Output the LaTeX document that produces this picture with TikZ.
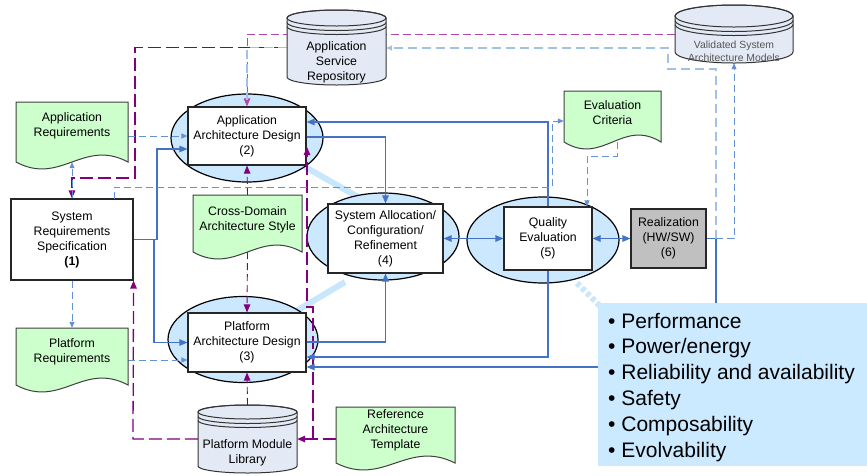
\documentclass[tikz,border=0pt]{standalone}
\usepackage{fontspec}
\setmainfont{Liberation Sans}
\usetikzlibrary{arrows.meta,shapes.geometric}

\definecolor{flowblue}{RGB}{68,114,196}
\definecolor{dashmid}{RGB}{100,145,212}
\definecolor{dashpale}{RGB}{165,192,230}
\definecolor{purp}{RGB}{128,0,128}
\definecolor{purplight}{RGB}{176,72,176}
\definecolor{ellfill}{RGB}{204,232,255}
\definecolor{docfill}{RGB}{204,255,204}
\definecolor{cylfill}{RGB}{228,234,245}
\definecolor{realfill}{RGB}{192,192,192}
\definecolor{qualfill}{RGB}{204,234,255}
\definecolor{bandcol}{RGB}{200,230,252}
\definecolor{modeltext}{RGB}{85,85,85}

\tikzset{
  >={Triangle[length=8pt,width=6.5pt]},
  smalltip/.style={-{Triangle[length=6pt,width=5pt]}},
  lbl/.style={font=\fontsize{12.3}{15}\selectfont, align=center, inner sep=0pt},
  procbox/.style={draw=black!85, line width=1.1pt, fill=white, inner sep=0pt, lbl},
  ellnode/.style={ellipse, draw=black, line width=1.2pt, fill=ellfill, inner sep=0pt},
  docstyle/.style={draw=black!75, line width=1pt, fill=docfill},
  cylstyle/.style={draw=black!80, line width=1pt, fill=cylfill},
  cylline/.style={draw=black!80, line width=1pt},
  area/.style={inner sep=0pt, draw=none},
  flow/.style={draw=flowblue, line width=1.1pt},
  dsh/.style={draw=dashmid, line width=1pt, dash pattern=on 7pt off 4pt},
  dshpale/.style={draw=dashpale, line width=1.3pt, dash pattern=on 9pt off 5pt},
  pdash/.style={draw=purp, line width=1.3pt, dash pattern=on 13pt off 5pt},
  pthin/.style={draw=purp, line width=0.9pt, dash pattern=on 7pt off 4pt},
  band/.style={draw=bandcol, line width=6pt},
  qline/.style={anchor=base west, inner sep=0pt, font=\fontsize{21}{25}\selectfont},
}

% document symbol with wavy lower edge: x1, x2, top, bottom
\newcommand\docsym[4]{%
  \path[docstyle] (#1,#3) -- (#2,#3) -- (#2,#4)
    .. controls ({#1+0.6*(#2-#1)},{#4-24}) and ({#1+0.4*(#2-#1)},{#4+24}) .. (#1,#4) -- cycle;}

% database cylinder: centre x, top-ellipse y, bottom-ellipse y, x radius, y radius
\newcommand\dbcyl[5]{%
  \path[cylstyle] ({#1-#4},#2) -- ({#1-#4},#3)
    arc[start angle=180,end angle=360,x radius=#4pt,y radius=#5pt]
    -- ({#1+#4},#2)
    arc[start angle=0,end angle=180,x radius=#4pt,y radius=#5pt] -- cycle;
  \draw[cylline] (#1,#2) ellipse[x radius=#4pt,y radius=#5pt];
  \draw[cylline] ({#1-#4},{#2+4.5}) arc[start angle=180,end angle=360,x radius=#4pt,y radius=#5pt];
  \draw[cylline] ({#1-#4},{#2+8.5}) arc[start angle=180,end angle=360,x radius=#4pt,y radius=#5pt];}

\begin{document}
\begin{tikzpicture}[x=1pt,y=-1pt]
\fill[white] (0,0) rectangle (867,475);
\useasboundingbox (0,0) rectangle (867,475);

% light-blue bands joining the design activities
\draw[band] (300,164) -- (358,197);
\draw[band] (293,313) -- (345,282);
\draw[band, dash pattern=on 4pt off 3pt] (577,283) -- (600,306);

% activity ellipses
\node[ellnode, minimum width=152pt, minimum height=88pt] (e2) at (247,138) {};
\node[ellnode, minimum width=152pt, minimum height=87pt] (e4) at (383,236.5) {};
\node[ellnode, minimum width=152pt, minimum height=86pt] (e5) at (543,240) {};
\node[ellnode, minimum width=150pt, minimum height=86pt] (e3) at (243,339.5) {};

% outline areas of documents and repositories (used as connector ends)
\node[area, minimum width=112pt, minimum height=60pt] (appreq) at (72,132) {};
\node[area, minimum width=112pt, minimum height=57pt] (platreq) at (72,356.5) {};
\node[area, minimum width=109pt, minimum height=57pt] (crossdom) at (247.5,223.5) {};
\node[area, minimum width=97pt, minimum height=51pt] (evalcrit) at (612.5,116.5) {};
\node[area, minimum width=119pt, minimum height=56pt] (reftmpl) at (395.5,435) {};
\node[area, minimum width=99pt, minimum height=75pt] (asr) at (336.5,47.5) {};
\node[area, minimum width=118pt, minimum height=58pt] (valmod) at (734,34) {};
\node[area, minimum width=99pt, minimum height=68pt] (pml) at (247.5,439) {};

% process boxes
\node[procbox, minimum width=122pt, minimum height=81pt] (sysreq) at (72,239.5)
  {System\\Requirements\\Specification\\\textbf{(1)}};
\node[procbox, minimum width=118pt, minimum height=58pt] (box2) at (247,136)
  {Application\\Architecture Design\\(2)};
\node[procbox, minimum width=118pt, minimum height=59pt] (box3) at (247,342.5)
  {Platform\\Architecture Design\\(3)};
\node[procbox, minimum width=115pt, minimum height=69pt] (box4) at (385.5,238.5)
  {System Allocation/\\Configuration/\\Refinement\\(4)};
\node[procbox, minimum width=88pt, minimum height=63pt] (box5) at (548,238.5)
  {Quality\\Evaluation\\(5)};
\node[procbox, fill=realfill, minimum width=75pt, minimum height=59pt] (box6) at (668.5,238.5)
  {Realization\\(HW/SW)\\(6)};

% purple dashed flows
\draw[draw=purplight, line width=0.9pt, dash pattern=on 8pt off 4pt, ->]
  (valmod.west) -- (247,34) -- (box2.north);
\draw[pdash, ->] (asr.west) -- (135,47.5) -- (135,178) -- (72,178) -- (sysreq.north);
\draw[dshpale] (asr.west) -- (247,47.5) -- (247,100);
\draw[pthin, ->] (crossdom.north) -- (box2.south);
\draw[pthin, ->] (crossdom.south) -- (box3.north);
\draw[pthin, ->] (pml.north) -- (box3.south);
\draw[pdash, ->] (pml.west) -- (133,439) -- (sysreq.south east);
\draw[pdash, ->] (reftmpl.west |- pml.east) -- (pml.east);
\draw[pdash, ->] (313,439) -- (313,307) -- (307,307) -- (307,147);

% solid flows between activities
\draw[flow, ->] (sysreq.east) -- (157,239.5) -- (157,149) -- (box2.west |- 0,149);
\draw[flow, ->] (sysreq.east) -- (154,239.5) |- (box3.west);
\draw[flow, ->] (box2.east |- 0,137) -- (385.5,137) -- (box4.north);
\draw[flow, ->] (box5.north) -- (548,122) -- (box2.east |- 0,122);
\draw[flow, <->] (box4.east) -- (box5.west);
\draw[flow, <->] (box5.east) -- (box6.west);
\draw[flow, ->] (box3.east |- 0,342) -- (385.5,342) -- (box4.south);
\draw[flow, ->] (box5.south) -- (548,357) -- (box3.east |- 0,357);
\draw[flow, ->] (box6.east) -- (716,238.5) -- (716,367) -- (box3.east |- 0,367);

% dashed information flows
\draw[dsh, smalltip] (appreq.east |- box2.west) -- (box2.west);
\draw[dsh, smalltip] (platreq.east |- 0,360) -- (box3.west |- 0,360);
\draw[dsh, smalltip] (sysreq.north) -- (appreq.south);
\draw[dsh, smalltip] (sysreq.south) -- (platreq.north);
\draw[dsh, smalltip] (114,199) -- (114,187) -- (552,187) -- (552,121) -- (evalcrit.west |- 0,121);
\draw[dsh, smalltip] (617,142) -- (617,156) -- (587,156) -- (box5.north -| 587,0);
\draw[dshpale, smalltip] (716,238.5) -- (716,69) -- (668,69) -- (668,48) -- (asr.east |- 0,48);
\draw[dsh, smalltip] (716,238.5) -- (734,238.5) -- (valmod.south);

% documents
\docsym{16}{128}{102}{162}
\node[lbl] (appreqtext) at (72,125.5) {Application\\Requirements};
\docsym{16}{128}{328}{385}
\node[lbl] (platreqtext) at (72,351.5) {Platform\\Requirements};
\docsym{193}{302}{195}{252}
\node[lbl] (crossdomtext) at (247.5,219.5) {Cross-Domain\\Architecture Style};
\docsym{564}{661}{91}{142}
\node[lbl] (evalcrittext) at (612.5,113) {Evaluation\\Criteria};
\docsym{336}{455}{407}{463}
\node[lbl] (reftmpltext) at (395.5,430) {Reference\\Architecture\\Template};

% repositories
\dbcyl{336.5}{18}{77}{49.5}{8}
\node[lbl] (asrtext) at (336.5,62) {Application\\Service\\Repository};
\dbcyl{734}{16}{52}{59}{11}
\node[lbl, font=\fontsize{10.4}{13}\selectfont, text=modeltext] (valmodtext) at (734,51.5)
  {Validated System\\Architecture Models};
\dbcyl{247.5}{412}{466}{49.5}{7}
\node[lbl] (pmltext) at (247.5,452.5) {Platform Module\\Library};

% quality attributes
\fill[qualfill] (598,303) rectangle (867,466);
\node[qline] (q1) at (608,328) {\textbullet\ Performance};
\node[qline] (q2) at (608,353.8) {\textbullet\ Power/energy};
\node[qline] (q3) at (608,379.6) {\textbullet\ Reliability and availability};
\node[qline] (q4) at (608,405.4) {\textbullet\ Safety};
\node[qline] (q5) at (608,431.2) {\textbullet\ Composability};
\node[qline] (q6) at (608,457) {\textbullet\ Evolvability};
\end{tikzpicture}
\end{document}
